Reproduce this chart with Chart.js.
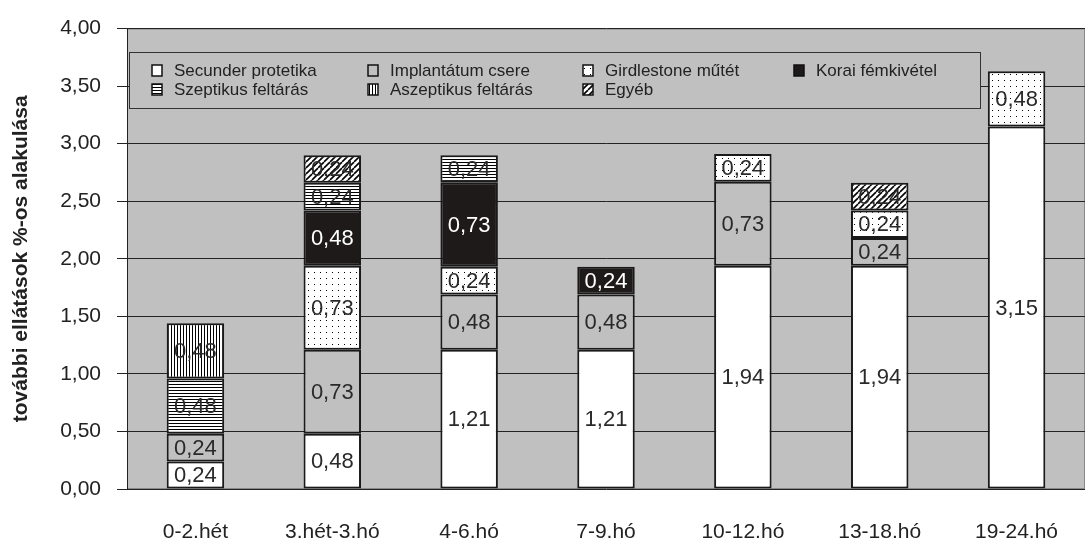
<!DOCTYPE html>
<html>
<head>
<meta charset="utf-8">
<script src="https://cdn.jsdelivr.net/npm/chart.js@4.4.1/dist/chart.umd.min.js"></script>
<style>
  html, body { margin: 0; padding: 0; background: #fff; }
</style>
</head>
<body>
<canvas id="chart" width="1091" height="558"></canvas>
<script>
// categories and values
const categories = ['0-2.hét', '3.hét-3.hó', '4-6.hó', '7-9.hó', '10-12.hó', '13-18.hó', '19-24.hó'];
const seriesNames = ['Secunder protetika', 'Implantátum csere', 'Girdlestone műtét', 'Korai fémkivétel',
                     'Szeptikus feltárás', 'Aszeptikus feltárás', 'Egyéb'];
const secunder    = [0.24, 0.48, 1.21, 1.21, 1.94, 1.94, 3.15];
const implantatum = [0.24, 0.73, 0.48, 0.48, 0.73, 0.24, null];
const girdlestone = [null, 0.73, 0.24, null, 0.24, 0.24, 0.48];
const korai       = [null, 0.48, 0.73, 0.24, null, null, null];
const szeptikus   = [0.48, 0.24, 0.24, null, null, null, null];
const aszeptikus  = [0.48, null, null, null, null, null, null];
const egyeb       = [null, 0.24, null, null, null, 0.24, null];
const yTicks = [0, 0.5, 1, 1.5, 2, 2.5, 3, 3.5, 4];

const FONT = '"Liberation Sans", Arial, sans-serif';
const GREY = '#c0c0c0';
const INK = '#222';

const canvas = document.getElementById('chart');
const ctx = canvas.getContext('2d');

// small tiles for the black and white hatching
function makePattern(w, h, draw) {
    const c = document.createElement('canvas');
    c.width = w; c.height = h;
    const g = c.getContext('2d');
    g.fillStyle = '#fff';
    g.fillRect(0, 0, w, h);
    g.fillStyle = '#000';
    g.strokeStyle = '#000';
    draw(g, w, h);
    return ctx.createPattern(c, 'repeat');
}

const dots = makePattern(6, 6, g => g.fillRect(2, 2, 1, 1));
const hLines = makePattern(1, 3, g => g.fillRect(0, 0, 1, 1));
const vLines = makePattern(3, 1, g => g.fillRect(0, 0, 1, 1));
const diag = makePattern(6, 6, g => {
    g.lineWidth = 1.6;
    for (let o = -6; o <= 6; o += 6) {
        g.beginPath();
        g.moveTo(o, 6);
        g.lineTo(o + 6, 0);
        g.stroke();
    }
});

const values = [secunder, implantatum, girdlestone, korai, szeptikus, aszeptikus, egyeb];
const fills = ['#ffffff', GREY, dots, '#1e1a1a', hLines, vLines, diag];
const labelColors = ['#2a2a2a', '#2a2a2a', '#2a2a2a', '#fff', '#2a2a2a', '#2a2a2a', '#2a2a2a'];

const datasets = values.map((v, i) => ({
    label: seriesNames[i],
    data: v,
    backgroundColor: fills[i],
    borderColor: '#1a1a1a',
    borderWidth: 2,
    borderSkipped: false,
    barPercentage: 0.42,
    categoryPercentage: 1
}));

const fmt = v => v.toFixed(2).replace('.', ',');

// grey plot area
const plotBackground = {
    id: 'plotBackground',
    beforeDraw(chart) {
        const a = chart.chartArea;
        const c = chart.ctx;
        c.save();
        c.fillStyle = GREY;
        c.fillRect(a.left, a.top, a.right - a.left, a.bottom - a.top);
        c.strokeStyle = '#8a8a8a';
        c.lineWidth = 1;
        c.strokeRect(a.left + 0.5, a.top + 0.5, a.right - a.left - 1, a.bottom - a.top - 1);
        c.restore();
    }
};

// value labels in the middle of each piece
const segmentLabels = {
    id: 'segmentLabels',
    afterDatasetsDraw(chart) {
        const c = chart.ctx;
        c.save();
        c.font = '22px ' + FONT;
        c.textAlign = 'center';
        c.textBaseline = 'middle';
        chart.data.datasets.forEach((ds, i) => {
            chart.getDatasetMeta(i).data.forEach((bar, j) => {
                const v = ds.data[j];
                if (v == null) return;
                c.fillStyle = labelColors[i];
                c.fillText(fmt(v), bar.x, (bar.y + bar.base) / 2 + 1);
            });
        });
        c.restore();
    }
};

// legend box sitting inside the plot
const boxLegend = {
    id: 'boxLegend',
    afterDatasetsDraw(chart) {
        const c = chart.ctx;
        const a = chart.chartArea;
        const left = a.left + 2, top = 52, right = 980, bottom = 108;
        c.save();
        c.fillStyle = GREY;
        c.fillRect(left, top, right - left, bottom - top);
        c.strokeStyle = '#333';
        c.lineWidth = 1;
        c.strokeRect(left + 0.5, top + 0.5, right - left, bottom - top);
        const cols = [152, 368, 583, 794];
        const rows = [71, 90];
        c.font = '17px ' + FONT;
        c.textBaseline = 'middle';
        c.textAlign = 'left';
        seriesNames.forEach((name, i) => {
            const x = cols[i % 4], y = rows[Math.floor(i / 4)];
            c.fillStyle = fills[i];
            c.fillRect(x, y - 6, 10, 11);
            c.strokeStyle = '#111';
            c.lineWidth = 1.5;
            c.strokeRect(x, y - 6, 10, 11);
            c.fillStyle = INK;
            c.fillText(name, x + 22, y);
        });
        c.restore();
    }
};

new Chart(ctx, {
    type: 'bar',
    data: { labels: categories, datasets: datasets },
    options: {
        responsive: false,
        animation: false,
        layout: { padding: { top: 25, right: 6, bottom: 0, left: 0 } },
        plugins: {
            legend: { display: false },
            tooltip: { enabled: false }
        },
        scales: {
            x: {
                stacked: true,
                grid: { display: false, drawTicks: false },
                border: { display: false },
                ticks: {
                    color: INK,
                    font: { family: FONT, size: 21 },
                    padding: 31,
                    maxRotation: 0
                },
                afterFit(scale) { scale.height = 69; }
            },
            y: {
                stacked: true,
                min: 0,
                max: 4,
                afterBuildTicks(scale) { scale.ticks = yTicks.map(v => ({ value: v })); },
                grid: { color: INK, lineWidth: 1, tickLength: 10, tickColor: INK },
                border: { display: true, color: INK, width: 1 },
                ticks: {
                    color: INK,
                    font: { family: FONT, size: 21 },
                    padding: 16,
                    callback: v => fmt(v)
                },
                title: {
                    display: true,
                    text: 'további ellátások %-os alakulása',
                    color: INK,
                    font: { family: FONT, size: 21, weight: 'bold' },
                    padding: { top: 9, bottom: 0 }
                },
                afterFit(scale) { scale.width = 127; }
            }
        }
    },
    plugins: [plotBackground, boxLegend, segmentLabels]
});
</script>
</body>
</html>
